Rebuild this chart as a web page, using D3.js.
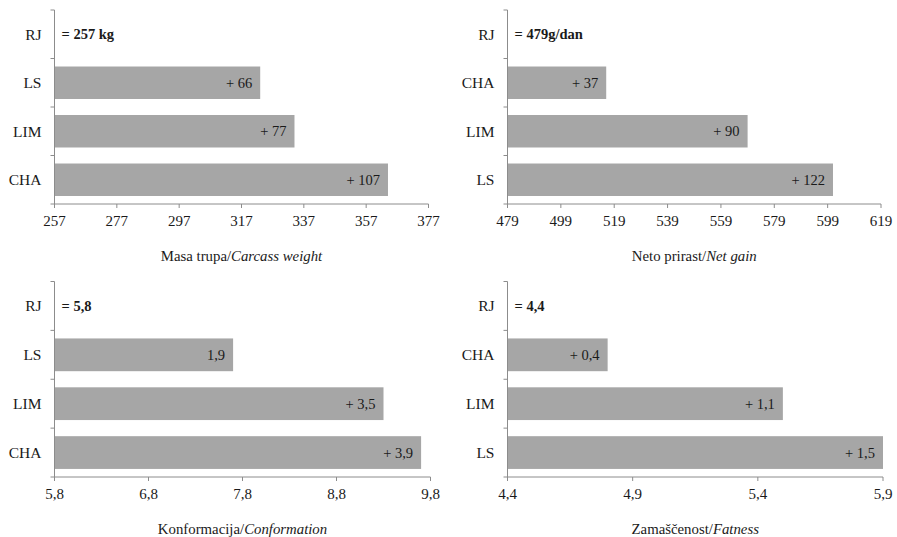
<!DOCTYPE html>
<html>
<head>
<meta charset="utf-8">
<script src="https://cdn.jsdelivr.net/npm/d3@7"></script>
<style>
  body { margin: 0; background: #fff; }
  svg { display: block; font-family: "Liberation Serif", "Times New Roman", serif; }
</style>
</head>
<body>
<svg id="chart" width="897" height="537"></svg>
<script>
// Carcass weight
var carcassCats = ['RJ', 'LS', 'LIM', 'CHA'];
var carcassVals = [0, 66, 77, 107];
var carcassLabels = ['= 257 kg', '+ 66', '+ 77', '+ 107'];
var carcassTicks = [257, 277, 297, 317, 337, 357, 377];
var carcassTickLabels = ['257', '277', '297', '317', '337', '357', '377'];

// Net gain
var gainCats = ['RJ', 'CHA', 'LIM', 'LS'];
var gainVals = [0, 37, 90, 122];
var gainLabels = ['= 479g/dan', '+ 37', '+ 90', '+ 122'];
var gainTicks = [479, 499, 519, 539, 559, 579, 599, 619];
var gainTickLabels = ['479', '499', '519', '539', '559', '579', '599', '619'];

// Conformation
var confCats = ['RJ', 'LS', 'LIM', 'CHA'];
var confVals = [0, 1.9, 3.5, 3.9];
var confLabels = ['= 5,8', '1,9', '+ 3,5', '+ 3,9'];
var confTicks = [5.8, 6.8, 7.8, 8.8, 9.8];
var confTickLabels = ['5,8', '6,8', '7,8', '8,8', '9,8'];

// Fatness
var fatCats = ['RJ', 'CHA', 'LIM', 'LS'];
var fatVals = [0, 0.4, 1.1, 1.5];
var fatLabels = ['= 4,4', '+ 0,4', '+ 1,1', '+ 1,5'];
var fatTicks = [4.4, 4.9, 5.4, 5.9];
var fatTickLabels = ['4,4', '4,9', '5,4', '5,9'];

var AXIS = '#8c8c8c', BAR = '#a6a6a6', TXT = '#1a1a1a';

var svg = d3.select('#chart');

function drawPanel(o) {
    var g = svg.append('g');
    var lo = o.ticks[0], hi = o.ticks[o.ticks.length - 1];
    var x = d3.scaleLinear().domain([lo, hi]).range([o.x0, o.x1]);
    var y = d3.scaleBand().domain(o.cats).range([o.y0, o.y1])
        .paddingInner(0.33).paddingOuter(0.165);

    // bars (offset from base value = first tick)
    g.selectAll('rect.bar').data(o.cats).enter().append('rect')
        .attr('class', 'bar')
        .filter(function(d, i) { return o.vals[i] > 0; })
        .attr('x', x(lo))
        .attr('y', function(d) { return y(d); })
        .attr('width', function(d) { var i = o.cats.indexOf(d); return x(lo + o.vals[i]) - x(lo); })
        .attr('height', y.bandwidth())
        .attr('fill', BAR);

    // value labels
    g.selectAll('text.val').data(o.cats).enter().append('text')
        .attr('class', 'val')
        .attr('x', function(d, i) { return o.vals[i] > 0 ? x(lo + o.vals[i]) - 8 : x(lo) + 7; })
        .attr('y', function(d) { return y(d) + y.bandwidth() / 2; })
        .attr('dy', '0.35em')
        .attr('text-anchor', function(d, i) { return o.vals[i] > 0 ? 'end' : 'start'; })
        .attr('font-size', function(d, i) { return i === 0 ? 14.5 : 14.5; })
        .attr('font-weight', function(d, i) { return i === 0 ? 'bold' : 'normal'; })
        .attr('fill', TXT)
        .text(function(d, i) { return o.labels[i]; });

    // y axis line + ticks at band boundaries
    g.append('line').attr('x1', x(lo)).attr('x2', x(lo))
        .attr('y1', o.y0).attr('y2', o.y1 + 4).attr('stroke', AXIS);
    d3.range(o.cats.length + 1).forEach(function(k) {
        var yy = o.y0 + k * y.step();
        g.append('line').attr('x1', x(lo) - 4).attr('x2', x(lo))
            .attr('y1', yy).attr('y2', yy).attr('stroke', AXIS);
    });
    g.selectAll('text.cat').data(o.cats).enter().append('text')
        .attr('class', 'cat')
        .attr('x', x(lo) - 13)
        .attr('y', function(d) { return y(d) + y.bandwidth() / 2; })
        .attr('dy', '0.35em')
        .attr('text-anchor', 'end')
        .attr('font-size', 15.5)
        .attr('fill', TXT)
        .text(function(d) { return d; });

    // x axis
    g.append('line').attr('x1', x(lo)).attr('x2', x(hi))
        .attr('y1', o.y1).attr('y2', o.y1).attr('stroke', AXIS);
    g.selectAll('line.xt').data(o.ticks).enter().append('line')
        .attr('class', 'xt')
        .attr('x1', function(d) { return x(d); }).attr('x2', function(d) { return x(d); })
        .attr('y1', o.y1).attr('y2', o.y1 + 4).attr('stroke', AXIS);
    g.selectAll('text.xl').data(o.ticks).enter().append('text')
        .attr('class', 'xl')
        .attr('x', function(d) { return x(d); })
        .attr('y', o.y1 + 17)
        .attr('dy', '0.35em')
        .attr('text-anchor', 'middle')
        .attr('font-size', 15)
        .attr('fill', TXT)
        .text(function(d, i) { return o.tickLabels[i]; });

    // axis title
    var t = g.append('text')
        .attr('x', (x(lo) + x(hi)) / 2)
        .attr('y', o.y1 + 52)
        .attr('dy', '0.35em')
        .attr('text-anchor', 'middle')
        .attr('font-size', 14.8)
        .attr('fill', TXT);
    t.append('tspan').text(o.title[0]);
    t.append('tspan').attr('font-style', 'italic').text(o.title[1]);
}

drawPanel({ cats: carcassCats, vals: carcassVals, labels: carcassLabels,
    ticks: carcassTicks, tickLabels: carcassTickLabels,
    title: ['Masa trupa/', 'Carcass weight'],
    x0: 54.5, x1: 428.5, y0: 10, y1: 204 });

drawPanel({ cats: gainCats, vals: gainVals, labels: gainLabels,
    ticks: gainTicks, tickLabels: gainTickLabels,
    title: ['Neto prirast/', 'Net gain'],
    x0: 507.5, x1: 881, y0: 10, y1: 204 });

drawPanel({ cats: confCats, vals: confVals, labels: confLabels,
    ticks: confTicks, tickLabels: confTickLabels,
    title: ['Konformacija/', 'Conformation'],
    x0: 54.5, x1: 430.5, y0: 281.5, y1: 477 });

drawPanel({ cats: fatCats, vals: fatVals, labels: fatLabels,
    ticks: fatTicks, tickLabels: fatTickLabels,
    title: ['Zamaščenost/', 'Fatness'],
    x0: 507.5, x1: 883, y0: 281.5, y1: 477 });
</script>
</body>
</html>
